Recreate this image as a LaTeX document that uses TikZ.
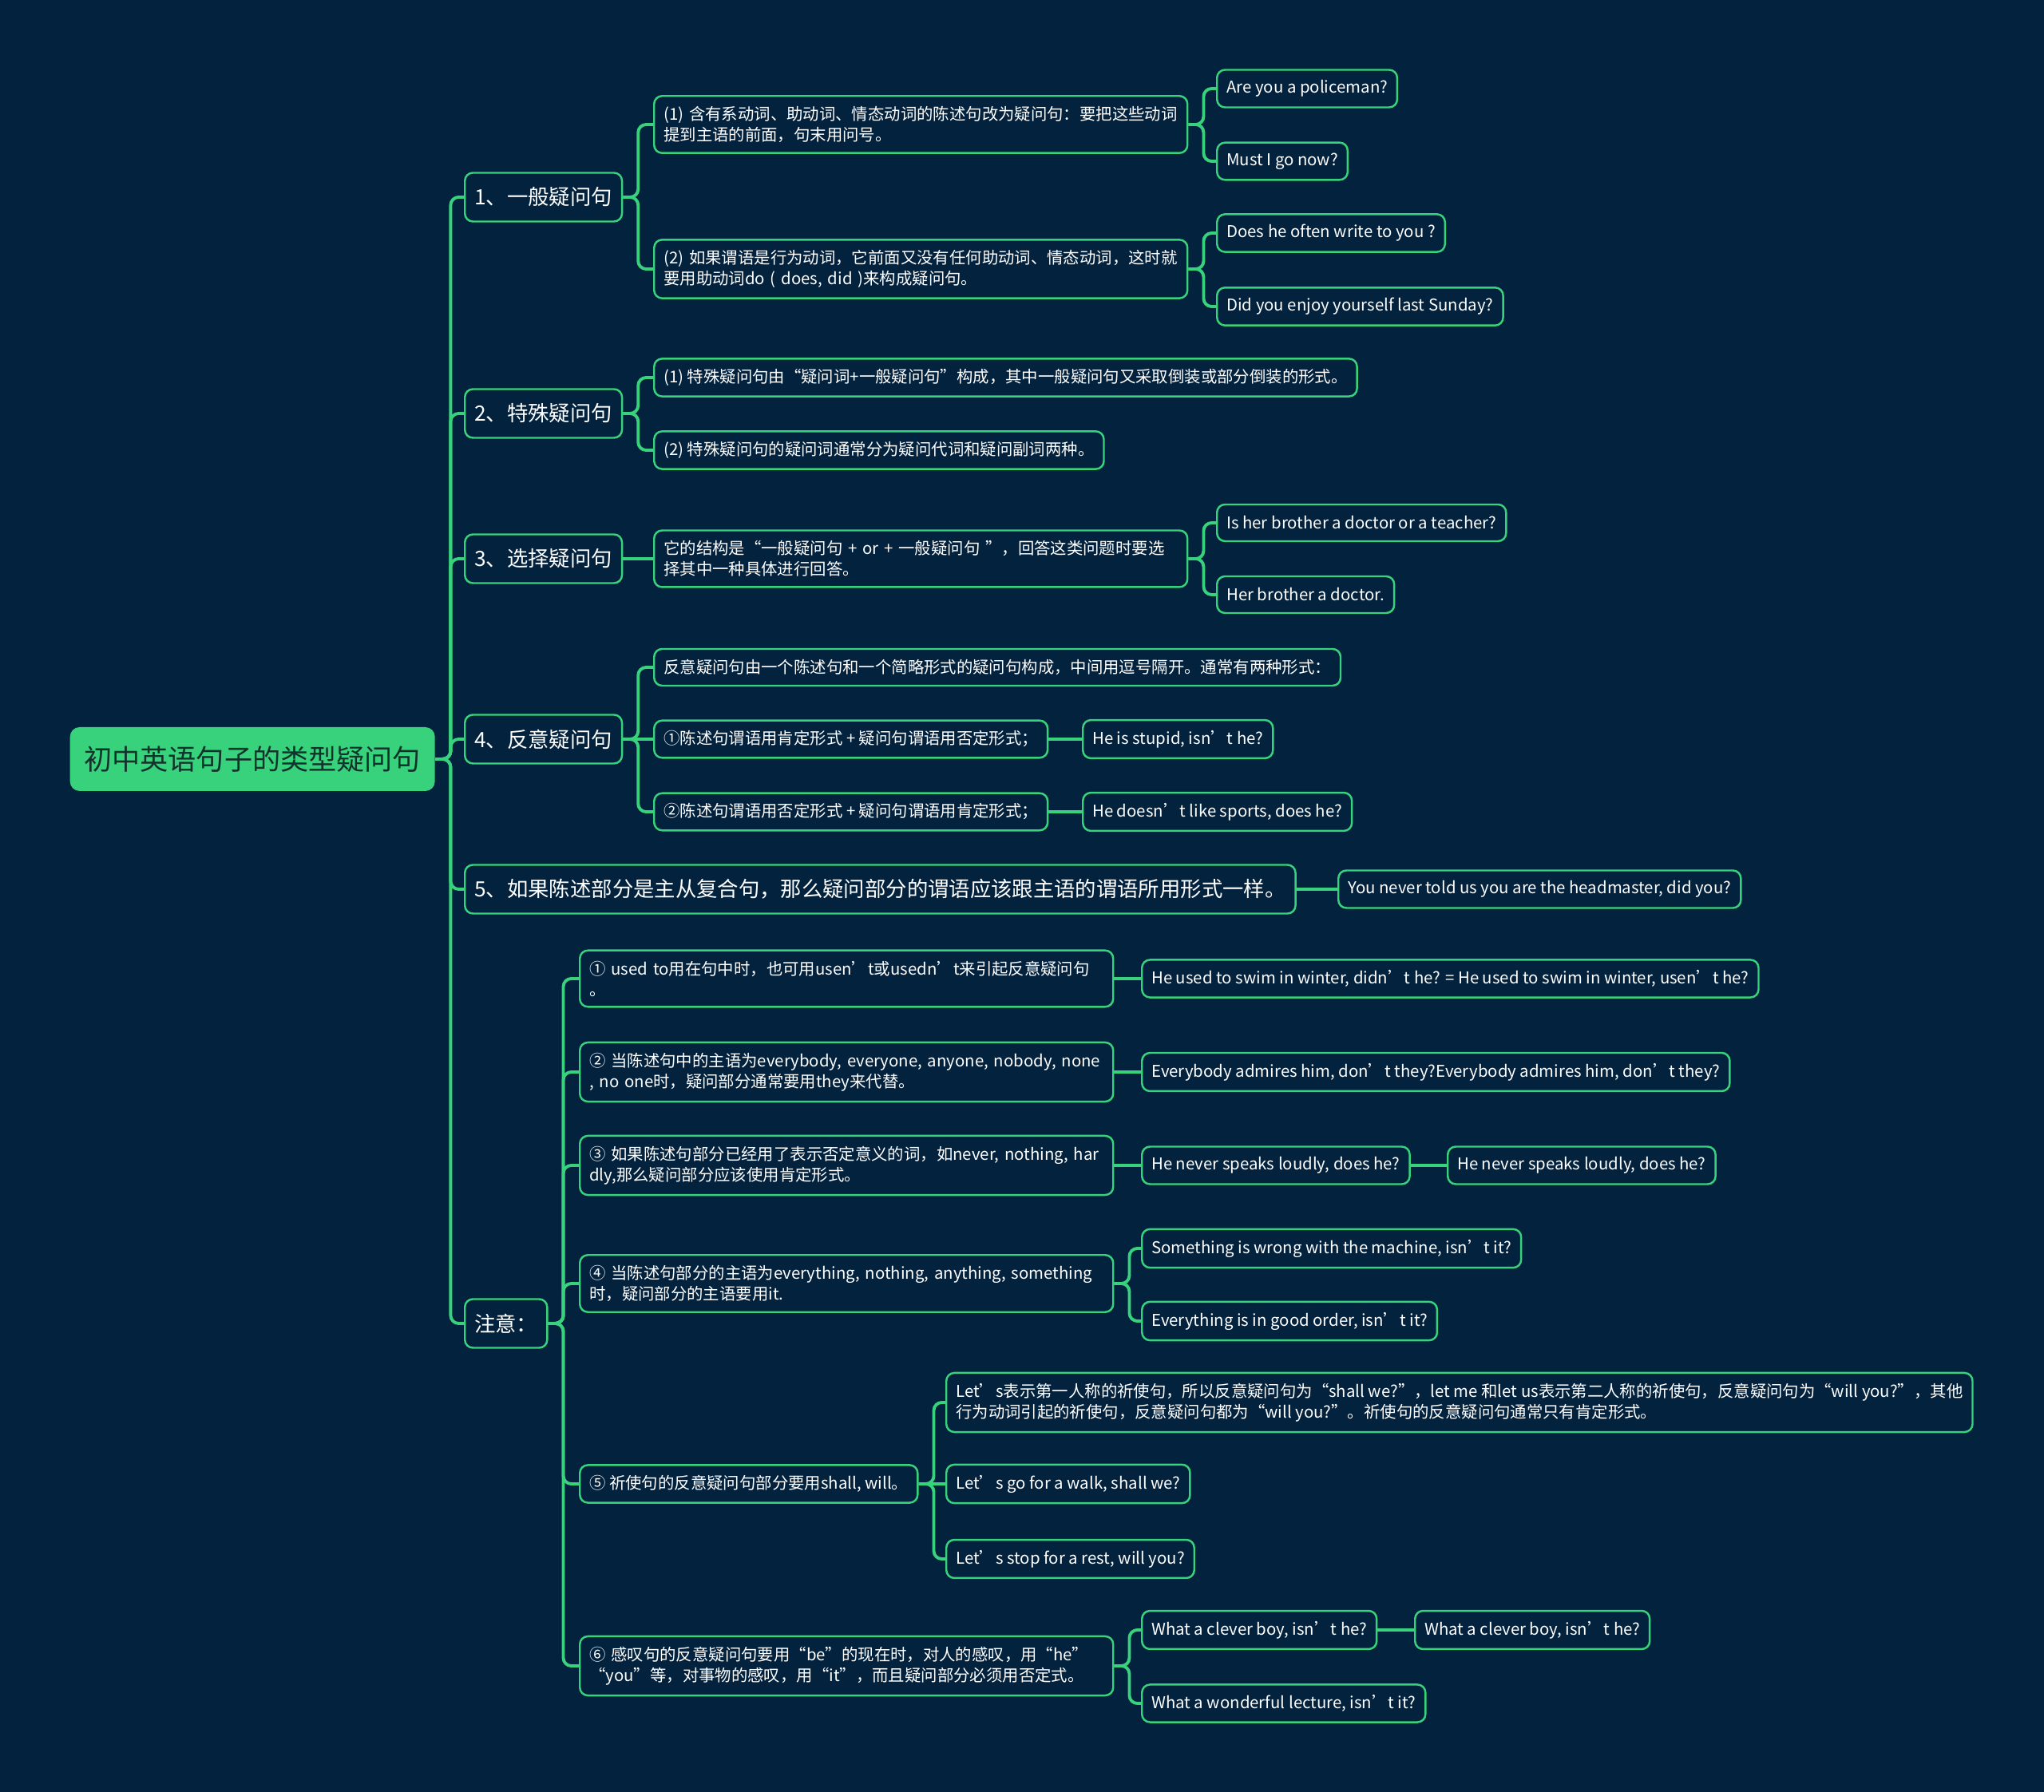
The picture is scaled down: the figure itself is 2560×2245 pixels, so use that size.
\documentclass[tikz,border=0pt]{standalone}
\usepackage{fontspec}
\setmainfont{Noto Sans CJK SC}
\definecolor{bg}{HTML}{03223E}
\definecolor{mint}{HTML}{37D27B}
\definecolor{rootink}{HTML}{12332B}

\begin{document}
\begin{tikzpicture}[
  x=0.1mm, y=-0.1mm,
  link/.style={draw=mint, line width=1.1pt, rounded corners=1mm},
  box/.style={draw=mint, line width=0.7pt, rounded corners=1mm, fill=bg, text=white,
    anchor=west, inner xsep=1.2mm, align=left},
  mindroot/.style={fill=mint, rounded corners=1.2mm, text=rootink, anchor=west,
    minimum width=45.7mm, minimum height=8mm, font=\fontsize{10}{12}\selectfont},
  topic/.style={box, minimum height=6.1mm, font=\fontsize{7.5}{9}\selectfont},
  leaf/.style={box, minimum height=4.6mm, inner ysep=1.3mm, font=\fontsize{5.8}{7.4}\selectfont},
  wideleaf/.style={leaf, text width=64.4mm}
]
  \fill[bg] (0,0) rectangle (2560,2245);
  \useasboundingbox (0,0) rectangle (2560,2245);

  % root and main topics
  \node[mindroot] (root) at (87,951) {初中英语句子的类型疑问句};
  \node[topic] (q1) at (581,247) {1、一般疑问句};
  \node[topic] (q2) at (581,518) {2、特殊疑问句};
  \node[topic] (q3) at (581,700) {3、选择疑问句};
  \node[topic] (q4) at (581,926) {4、反意疑问句};
  \node[topic] (q5) at (581,1114) {5、如果陈述部分是主从复合句，那么疑问部分的谓语应该跟主语的谓语所用形式一样。};
  \node[topic] (note) at (581,1658) {注意：};

  % 1
  \node[wideleaf] (q1a) at (818,156) {(1) 含有系动词、助动词、情态动词的陈述句改为疑问句：要把这些动词\\提到主语的前面，句末用问号。};
  \node[wideleaf] (q1b) at (818,337) {(2) 如果谓语是行为动词，它前面又没有任何助动词、情态动词，这时就\\要用助动词do ( does, did )来构成疑问句。};
  \node[leaf] (q1a1) at (1523,111) {Are you a policeman?};
  \node[leaf] (q1a2) at (1523,202) {Must I go now?};
  \node[leaf] (q1b1) at (1523,292) {Does he often write to you ?};
  \node[leaf] (q1b2) at (1523,384) {Did you enjoy yourself last Sunday?};

  % 2
  \node[leaf] (q2a) at (818,473) {(1) 特殊疑问句由“疑问词+一般疑问句”构成，其中一般疑问句又采取倒装或部分倒装的形式。};
  \node[leaf] (q2b) at (818,564) {(2) 特殊疑问句的疑问词通常分为疑问代词和疑问副词两种。};

  % 3
  \node[wideleaf] (q3a) at (818,700) {它的结构是“一般疑问句 + or + 一般疑问句 ”，回答这类问题时要选\\择其中一种具体进行回答。};
  \node[leaf] (q3a1) at (1523,655) {Is her brother a doctor or a teacher?};
  \node[leaf] (q3a2) at (1523,745) {Her brother a doctor.};

  % 4
  \node[leaf] (q4a) at (818,836) {反意疑问句由一个陈述句和一个简略形式的疑问句构成，中间用逗号隔开。通常有两种形式：};
  \node[leaf] (q4b) at (818,926) {①陈述句谓语用肯定形式 + 疑问句谓语用否定形式；};
  \node[leaf] (q4c) at (818,1017) {②陈述句谓语用否定形式 + 疑问句谓语用肯定形式；};
  \node[leaf] (q4b1) at (1355,926) {He is stupid, isn’t he?};
  \node[leaf] (q4c1) at (1355,1017) {He doesn’t like sports, does he?};

  % 5
  \node[leaf] (q5a) at (1675,1114) {You never told us you are the headmaster, did you?};

  % notes
  \node[wideleaf] (n1) at (725,1226) {① used to用在句中时，也可用usen’t或usedn’t来引起反意疑问句\\。};
  \node[wideleaf] (n2) at (725,1343) {② 当陈述句中的主语为everybody, everyone, anyone, nobody, none\\, no one时，疑问部分通常要用they来代替。};
  \node[wideleaf] (n3) at (725,1460) {③ 如果陈述句部分已经用了表示否定意义的词，如never, nothing, har\\dly,那么疑问部分应该使用肯定形式。};
  \node[wideleaf] (n4) at (725,1608) {④ 当陈述句部分的主语为everything, nothing, anything, something\\时，疑问部分的主语要用it.};
  \node[leaf] (n5) at (725,1859) {⑤ 祈使句的反意疑问句部分要用shall, will。};
  \node[wideleaf] (n6) at (725,2087) {⑥ 感叹句的反意疑问句要用“be”的现在时，对人的感叹，用“he”\\“you”等，对事物的感叹，用“it”，而且疑问部分必须用否定式。};

  \node[leaf] (n1a) at (1429,1226) {He used to swim in winter, didn’t he? = He used to swim in winter, usen’t he?};
  \node[leaf] (n2a) at (1429,1343) {Everybody admires him, don’t they?Everybody admires him, don’t they?};
  \node[leaf] (n3a) at (1429,1460) {He never speaks loudly, does he?};
  \node[leaf] (n3b) at (1812,1460) {He never speaks loudly, does he?};
  \node[leaf] (n4a) at (1429,1564) {Something is wrong with the machine, isn’t it?};
  \node[leaf] (n4b) at (1429,1655) {Everything is in good order, isn’t it?};
  \node[leaf] (n5a) at (1184,1757) {Let’s表示第一人称的祈使句，所以反意疑问句为“shall we?”，let me 和let us表示第二人称的祈使句，反意疑问句为“will you?”，其他\\行为动词引起的祈使句，反意疑问句都为“will you?”。祈使句的反意疑问句通常只有肯定形式。};
  \node[leaf] (n5b) at (1184,1859) {Let’s go for a walk, shall we?};
  \node[leaf] (n5c) at (1184,1953) {Let’s stop for a rest, will you?};
  \node[leaf] (n6a) at (1429,2042) {What a clever boy, isn’t he?};
  \node[leaf] (n6b) at (1771,2042) {What a clever boy, isn’t he?};
  \node[leaf] (n6c) at (1429,2134) {What a wonderful lecture, isn’t it?};

  % elbow connectors
  \foreach \p/\c in {root/q1, root/q2, root/q3, root/q4, root/q5, root/note,
      q1/q1a, q1/q1b, q1a/q1a1, q1a/q1a2, q1b/q1b1, q1b/q1b2,
      q2/q2a, q2/q2b, q3a/q3a1, q3a/q3a2, q4/q4a, q4/q4c,
      note/n1, note/n2, note/n3, note/n4, note/n5, note/n6,
      n4/n4a, n4/n4b, n5/n5a, n5/n5c, n6/n6a, n6/n6c}
    \draw[link] (\p.east) -- ++(19,0) |- (\c.west);
  % straight connectors
  \foreach \p/\c in {q3/q3a, q4/q4b, q4b/q4b1, q4c/q4c1, q5/q5a,
      n1/n1a, n2/n2a, n3/n3a, n3a/n3b, n5/n5b, n6a/n6b}
    \draw[link] (\p.east) -- (\c.west);
\end{tikzpicture}
\end{document}
